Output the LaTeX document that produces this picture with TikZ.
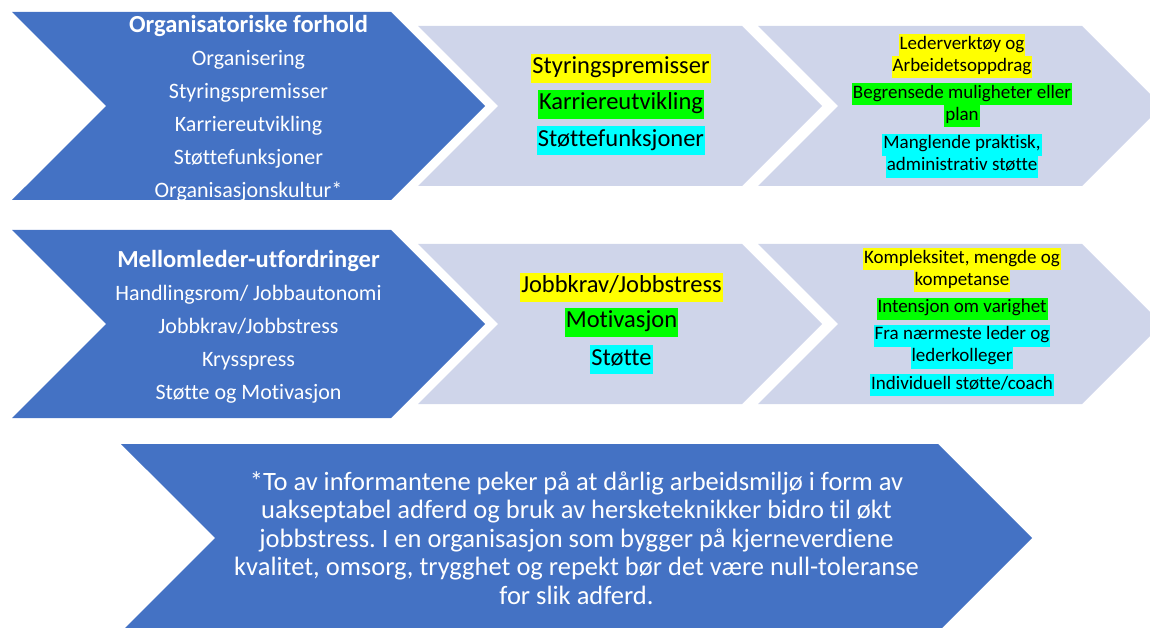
\documentclass[tikz,border=0pt]{standalone}
\usepackage{fontspec}
\setmainfont{Carlito}[Ligatures=NoCommon]
\usepackage{tikz}
\usetikzlibrary{shapes.symbols, positioning}
\frenchspacing

\definecolor{chevblue}{HTML}{4472C4}
\definecolor{chevgrey}{HTML}{CFD5EA}
\definecolor{hlyellow}{HTML}{FFFF00}
\definecolor{hlgreen}{HTML}{00FF00}
\definecolor{hlcyan}{HTML}{00FFFF}

\newcommand{\hl}[2]{{\setlength{\fboxsep}{1pt}\colorbox{#1}{\strut #2}}}
\newcommand{\tightlines}{\setlength{\lineskip}{0pt}}
\newcommand{\chevhead}[1]{{\bfseries\fontsize{24.5}{33}\selectfont #1}}

\tikzstyle{chevron} = [signal, signal from=west, signal to=east, signal pointer angle=90, inner sep=0pt, draw=none]
\tikzstyle{mainchev} = [chevron, fill=chevblue, minimum width=473pt, minimum height=188pt]
\tikzstyle{stepchev} = [chevron, fill=chevgrey, minimum width=404pt, minimum height=160pt]
\tikzstyle{notechev} = [chevron, fill=chevblue, text=white, minimum width=911pt, minimum height=188pt, align=center, font=\fontsize{26.5}{28.5}\selectfont]
\tikzstyle{maintext} = [inner sep=0pt, text=white, align=center, font=\fontsize{22}{33}\selectfont]
\tikzstyle{midlabel} = [inner sep=0pt, align=center, font=\fontsize{24.5}{27}\selectfont\tightlines]
\tikzstyle{sidelabel} = [inner sep=0pt, align=center, font=\fontsize{19}{20}\selectfont\tightlines]

\begin{document}
\begin{tikzpicture}[x=1pt, y=-1pt]
\useasboundingbox (0,0) rectangle (1150,628);

% Row 1
\node (org) [mainchev] at (248.5,106) {};
\node (orgmid) [stepchev] at (620,106) {};
\node (orgend) [stepchev] at (960,106) {};
\node (orgtext) [maintext, yshift=-2pt] at (org.center) {\chevhead{Organisatoriske forhold}\\Organisering\\Styringspremisser\\Karriereutvikling\\Støttefunksjoner\\Organisasjonskultur*};

\node (karriere) [midlabel] at (621,104.5) {\hl{hlgreen}{Karriereutvikling}};
\node (styring) [midlabel, above=7pt of karriere] {\hl{hlyellow}{Styringspremisser}};
\node (stotte) [midlabel, below=7pt of karriere] {\hl{hlcyan}{Støttefunksjoner}};

\node (begrens) [sidelabel] at (962,105.5) {\hl{hlgreen}{Begrensede muligheter eller}\\\hl{hlgreen}{plan}};
\node (verktoy) [sidelabel, above=5pt of begrens] {\hl{hlyellow}{Lederverktøy og}\\\hl{hlyellow}{Arbeidetsoppdrag}};
\node (mangel) [sidelabel, below=6pt of begrens] {\hl{hlcyan}{Manglende praktisk,}\\\hl{hlcyan}{administrativ støtte}};

% Row 2
\node (leder) [mainchev] at (248.5,324) {};
\node (ledermid) [stepchev] at (620,324) {};
\node (lederend) [stepchev] at (960,324) {};
\node (ledertext) [maintext, yshift=-3pt] at (leder.center) {\chevhead{Mellomleder-utfordringer}\\Handlingsrom/ Jobbautonomi\\Jobbkrav/Jobbstress\\Krysspress\\Støtte og Motivasjon};

\node (motiv) [midlabel] at (621.5,322.5) {\hl{hlgreen}{Motivasjon}};
\node (jobbkrav) [midlabel, above=6pt of motiv] {\hl{hlyellow}{Jobbkrav/Jobbstress}};
\node (stotte2) [midlabel, below=8pt of motiv] {\hl{hlcyan}{Støtte}};

\node (varighet) [sidelabel] at (962,308.5) {\hl{hlgreen}{Intensjon om varighet}};
\node (kompleks) [sidelabel, above=5pt of varighet] {\hl{hlyellow}{Kompleksitet, mengde og}\\\hl{hlyellow}{kompetanse}};
\node (narmeste) [sidelabel, below=5pt of varighet] {\hl{hlcyan}{Fra nærmeste leder og}\\\hl{hlcyan}{lederkolleger}};
\node (coach) [sidelabel, below=5pt of narmeste] {\hl{hlcyan}{Individuell støtte/coach}};

% Note
\node (note) [notechev] at (576.5,538) {*To av informantene peker på at dårlig arbeidsmiljø i form av\\uakseptabel adferd og bruk av hersketeknikker bidro til økt\\jobbstress. I en organisasjon som bygger på kjerneverdiene\\kvalitet, omsorg, trygghet og repekt bør det være null-toleranse\\for slik adferd.};
\end{tikzpicture}
\end{document}
